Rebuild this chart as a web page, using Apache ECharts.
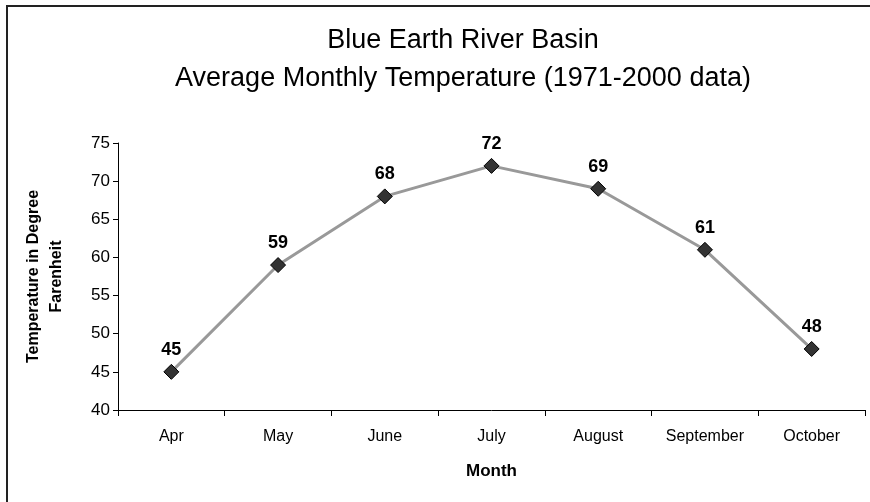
<!DOCTYPE html>
<html><head><meta charset="utf-8">
<script src="https://cdn.jsdelivr.net/npm/echarts@6/dist/echarts.min.js"></script>
<style>html,body{margin:0;padding:0;background:#fff}#c{width:870px;height:502px}</style>
</head><body><div id="c"></div>
<script>
var months = ['Apr','May','June','July','August','September','October'];
var temps = [45, 59, 68, 72, 69, 61, 48];
var yTicks = [40, 45, 50, 55, 60, 65, 70, 75];

var chart = echarts.init(document.getElementById('c'));
chart.setOption({
  backgroundColor: '#fff',
  animation: false,
  graphic: [{type:'rect', shape:{x:7,y:6,width:900,height:600}, style:{fill:'none', stroke:'#222', lineWidth:2}, z:-1}],
  title: {
    text: 'Blue Earth River Basin\nAverage Monthly Temperature (1971-2000 data)',
    left: 458, textAlign: 'center', top: 17,
    textStyle: {fontFamily:'Liberation Sans', fontSize:27, fontWeight:'normal', color:'#000', lineHeight:38}
  },
  grid: {left:118, right:5, top:143, bottom:92, containLabel:false},
  xAxis: {
    type:'category', data: months, boundaryGap:true,
    name:'Month', nameLocation:'middle', nameGap:53,
    nameTextStyle:{fontFamily:'Liberation Sans', fontSize:17, fontWeight:'bold', color:'#000'},
    axisLine:{lineStyle:{color:'#000', width:1}},
    axisTick:{show:true, interval:0, length:6, lineStyle:{color:'#000'}},
    axisLabel:{interval:0, hideOverlap:false, fontFamily:'Liberation Sans', fontSize:16, color:'#000', margin:19}
  },
  yAxis: {
    type:'value', min:yTicks[0], max:yTicks[yTicks.length-1], interval:5,
    name:'Temperature in Degree\nFarenheit', nameLocation:'middle', nameGap:50, nameRotate:90,
    nameTextStyle:{fontFamily:'Liberation Sans', fontSize:16, fontWeight:'bold', color:'#000', lineHeight:23},
    axisLine:{show:true, lineStyle:{color:'#000', width:1}},
    axisTick:{show:true, length:5, lineStyle:{color:'#000'}},
    splitLine:{show:false},
    axisLabel:{fontFamily:'Liberation Sans', fontSize:17, color:'#000', margin:8}
  },
  series: [{
    type:'line', data: temps,
    lineStyle:{color:'#999', width:3},
    symbol:'diamond', symbolSize:15,
    itemStyle:{color:'#333', borderColor:'#000', borderWidth:1},
    label:{show:true, position:'top', distance:5, fontFamily:'Liberation Sans', fontSize:18, fontWeight:'bold', color:'#000'}
  }]
});
</script></body></html>
